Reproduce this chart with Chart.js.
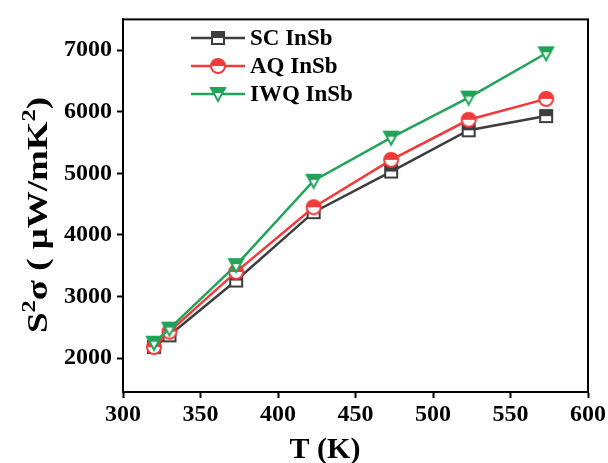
<!DOCTYPE html>
<html>
<head>
<meta charset="utf-8">
<script src="https://cdn.jsdelivr.net/npm/chart.js@4.4.0/dist/chart.umd.min.js"></script>
<style>
  html, body { margin: 0; padding: 0; background: #fff; }
  #wrap { width: 608px; height: 463px; }
</style>
</head>
<body>
<div id="wrap"><canvas id="chart"></canvas></div>
<script>
const temps = [320, 330, 373, 423, 473, 523, 573];
const scValues = [2180, 2370, 3260, 4370, 5030, 5700, 5930];
const aqValues = [2180, 2430, 3400, 4450, 5220, 5870, 6210];
const iwqValues = [2250, 2480, 3510, 4880, 5580, 6230, 6950];
const seriesNames = ["SC InSb", "AQ InSb", "IWQ InSb"];
const xTicks = [300, 350, 400, 450, 500, 550, 600];
const yTicks = [2000, 3000, 4000, 5000, 6000, 7000];

const serif = "'Liberation Serif', 'Times New Roman', serif";
const colors = ["#3d3d3d", "#f23a3a", "#22a35a"];

// half-filled markers like the original plot
function makeMarker(shape, color) {
    const c = document.createElement("canvas");
    c.width = 18;
    c.height = 18;
    const g = c.getContext("2d");
    g.lineWidth = 2;
    g.strokeStyle = color;
    g.fillStyle = "#fff";

    if (shape === "square") {
        g.fillRect(3, 3, 12, 12);
        g.fillStyle = color;
        g.fillRect(3, 3, 12, 6);
        g.strokeRect(3, 3, 12, 12);
    } else if (shape === "circle") {
        g.beginPath();
        g.arc(9, 9, 7, 0, Math.PI * 2);
        g.fill();
        g.fillStyle = color;
        g.beginPath();
        g.arc(9, 9, 7, Math.PI, 0);
        g.closePath();
        g.fill();
        g.beginPath();
        g.arc(9, 9, 7, 0, Math.PI * 2);
        g.stroke();
    } else {
        g.beginPath();
        g.moveTo(2, 3);
        g.lineTo(16, 3);
        g.lineTo(9, 16);
        g.closePath();
        g.fill();
        g.fillStyle = color;
        g.beginPath();
        g.moveTo(2, 3);
        g.lineTo(16, 3);
        g.lineTo(13.2, 8);
        g.lineTo(4.8, 8);
        g.closePath();
        g.fill();
        g.beginPath();
        g.moveTo(2, 3);
        g.lineTo(16, 3);
        g.lineTo(9, 16);
        g.closePath();
        g.stroke();
    }
    return c;
}

const markers = [
    makeMarker("square", colors[0]),
    makeMarker("circle", colors[1]),
    makeMarker("triangle", colors[2])
];

function toPoints(values) {
    return values.map((v, i) => ({ x: temps[i], y: v }));
}

const allValues = [scValues, aqValues, iwqValues];

// draws text pieces, some as superscripts, starting at x
function drawRich(ctx, parts, x, y, size) {
    parts.forEach(p => {
        const s = p.sup ? size * 0.66 : size;
        ctx.font = "bold " + s + "px " + serif;
        ctx.fillText(p.t, x, p.sup ? y - size * 0.4 : y);
        x += ctx.measureText(p.t).width;
    });
    return x;
}

function richWidth(ctx, parts, size) {
    let w = 0;
    parts.forEach(p => {
        ctx.font = "bold " + (p.sup ? size * 0.66 : size) + "px " + serif;
        w += ctx.measureText(p.t).width;
    });
    return w;
}

const yTitle = [
    { t: "S" }, { t: "2", sup: true }, { t: "σ ( μW/mK" }, { t: "2", sup: true }, { t: ")" }
];

const boxAndLegend = {
    id: "boxAndLegend",
    afterDraw(chart) {
        const ctx = chart.ctx;
        const a = chart.chartArea;
        ctx.save();
        ctx.strokeStyle = "#000";
        ctx.lineWidth = 2;
        ctx.strokeRect(a.left, a.top, a.right - a.left, a.bottom - a.top);

        // legend in the upper left of the plot
        const rowY = [38, 66, 94];
        seriesNames.forEach((name, i) => {
            const y = rowY[i];
            ctx.strokeStyle = colors[i];
            ctx.lineWidth = 2.5;
            ctx.beginPath();
            ctx.moveTo(191, y);
            ctx.lineTo(245, y);
            ctx.stroke();
            ctx.drawImage(markers[i], 218 - 9, y - 9);
            ctx.fillStyle = "#000";
            ctx.font = "bold 23px " + serif;
            ctx.textBaseline = "middle";
            ctx.fillText(name, 250, y + 1);
        });

        // axis titles
        ctx.fillStyle = "#000";
        ctx.textBaseline = "alphabetic";
        ctx.textAlign = "center";
        ctx.font = "bold 30px " + serif;
        ctx.fillText("T (K)", 325, 458);

        ctx.textAlign = "left";
        const size = 30;
        const w = richWidth(ctx, yTitle, size);
        const target = 236;
        ctx.translate(47, 215);
        ctx.rotate(-Math.PI / 2);
        ctx.scale(target / w, 1);
        drawRich(ctx, yTitle, -w / 2, 0, size);
        ctx.restore();
    }
};

new Chart(document.getElementById("chart"), {
    type: "line",
    data: {
        datasets: seriesNames.map((name, i) => ({
            label: name,
            data: toPoints(allValues[i]),
            borderColor: colors[i],
            backgroundColor: colors[i],
            borderWidth: 2.5,
            pointStyle: markers[i],
            pointRadius: 8,
            order: 3 - i,
            tension: 0
        }))
    },
    options: {
        responsive: true,
        maintainAspectRatio: false,
        animation: false,
        layout: {
            padding: { top: 13, right: 20, left: 0, bottom: 0 }
        },
        plugins: {
            legend: { display: false },
            tooltip: { enabled: false }
        },
        scales: {
            x: {
                type: "linear",
                min: 300,
                max: 600,
                afterBuildTicks: scale => {
                    scale.ticks = xTicks.map(v => ({ value: v }));
                },
                afterFit: scale => {
                    scale.height = 71;
                },
                border: { color: "#000", width: 2 },
                grid: {
                    drawOnChartArea: false,
                    drawTicks: true,
                    tickLength: 6,
                    tickWidth: 2,
                    color: "#000"
                },
                ticks: {
                    color: "#000",
                    padding: 2,
                    maxRotation: 0,
                    callback: v => String(v),
                    font: { family: serif, size: 24, weight: "bold" }
                }
            },
            y: {
                type: "linear",
                min: 1450,
                max: 7500,
                afterBuildTicks: scale => {
                    scale.ticks = yTicks.map(v => ({ value: v }));
                },
                afterFit: scale => {
                    scale.width = 123;
                },
                border: { color: "#000", width: 2 },
                grid: {
                    drawOnChartArea: false,
                    drawTicks: true,
                    tickLength: 6,
                    tickWidth: 2,
                    color: "#000"
                },
                ticks: {
                    color: "#000",
                    padding: 5,
                    callback: v => String(v),
                    font: { family: serif, size: 24, weight: "bold" }
                }
            }
        }
    },
    plugins: [boxAndLegend]
});
</script>
</body>
</html>
